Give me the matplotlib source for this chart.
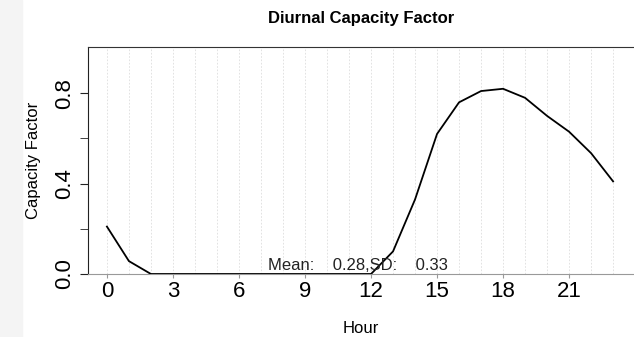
import numpy as np
import matplotlib.pyplot as plt
from matplotlib.patches import Rectangle

# hourly capacity factor
hours = list(range(24))
capacity = [0.21, 0.057, 0.0, 0.0, 0.0, 0.0, 0.0, 0.0, 0.0, 0.0, 0.0, 0.0, 0.0,
            0.10, 0.33, 0.62, 0.76, 0.81, 0.82, 0.78, 0.70, 0.63, 0.535, 0.41]
x_ticks = [0, 3, 6, 9, 12, 15, 18, 21]
y_ticks = [0.0, 0.4, 0.8]
y_minor = [0.2, 0.6]

plt.rcParams['font.family'] = ['Liberation Sans', 'DejaVu Sans']

fig = plt.figure(figsize=(6.34, 3.37), dpi=100)
# grey strip on the left edge
fig.patches.append(Rectangle((0, 0), 22 / 634, 1, transform=fig.transFigure,
                             color="#f4f4f4", zorder=0))

ax = fig.add_axes([88 / 634, 63 / 337, 546 / 634, 227 / 337])
ax.set_xlim(-0.86, 23.95)
ax.set_ylim(0, 1.005)

for h in hours:
    ax.axvline(h, color="#dddddd", lw=0.6, ls=(0, (2, 2)), zorder=1)

ax.plot(hours, capacity, color="black", lw=1.3, zorder=3)

mean = np.mean(capacity)
sd = np.std(capacity, ddof=1)
ax.text(7.3, 0.004, f"Mean:    {mean:.2f},SD:    {sd:.2f}", fontsize=12,
        ha="left", va="bottom", color="#222222", zorder=4)

ax.spines["right"].set_visible(False)
ax.spines["top"].set_color("#333333")
ax.spines["left"].set_color("#222222")
ax.spines["bottom"].set_color("#999999")

ax.set_xticks(x_ticks)
ax.set_xticklabels([str(t) for t in x_ticks], fontsize=16)
ax.tick_params(axis="x", length=3, color="#999999", pad=2)

ax.set_yticks(y_ticks)
ax.set_yticks(y_minor, minor=True)
ax.set_yticklabels([f"{t:.1f}" for t in y_ticks], fontsize=16, rotation=90,
                   va="center")
ax.tick_params(axis="y", which="both", length=6, color="#222222", pad=3)

ax.set_xlabel("Hour", fontsize=12, labelpad=14)
ax.set_ylabel("Capacity Factor", fontsize=12, labelpad=10)
fig.text(361 / 634, 1 - 18 / 337, "Diurnal Capacity Factor", fontsize=12,
         fontweight="bold", ha="center", va="center")

fig.savefig("out.png", dpi=100)
